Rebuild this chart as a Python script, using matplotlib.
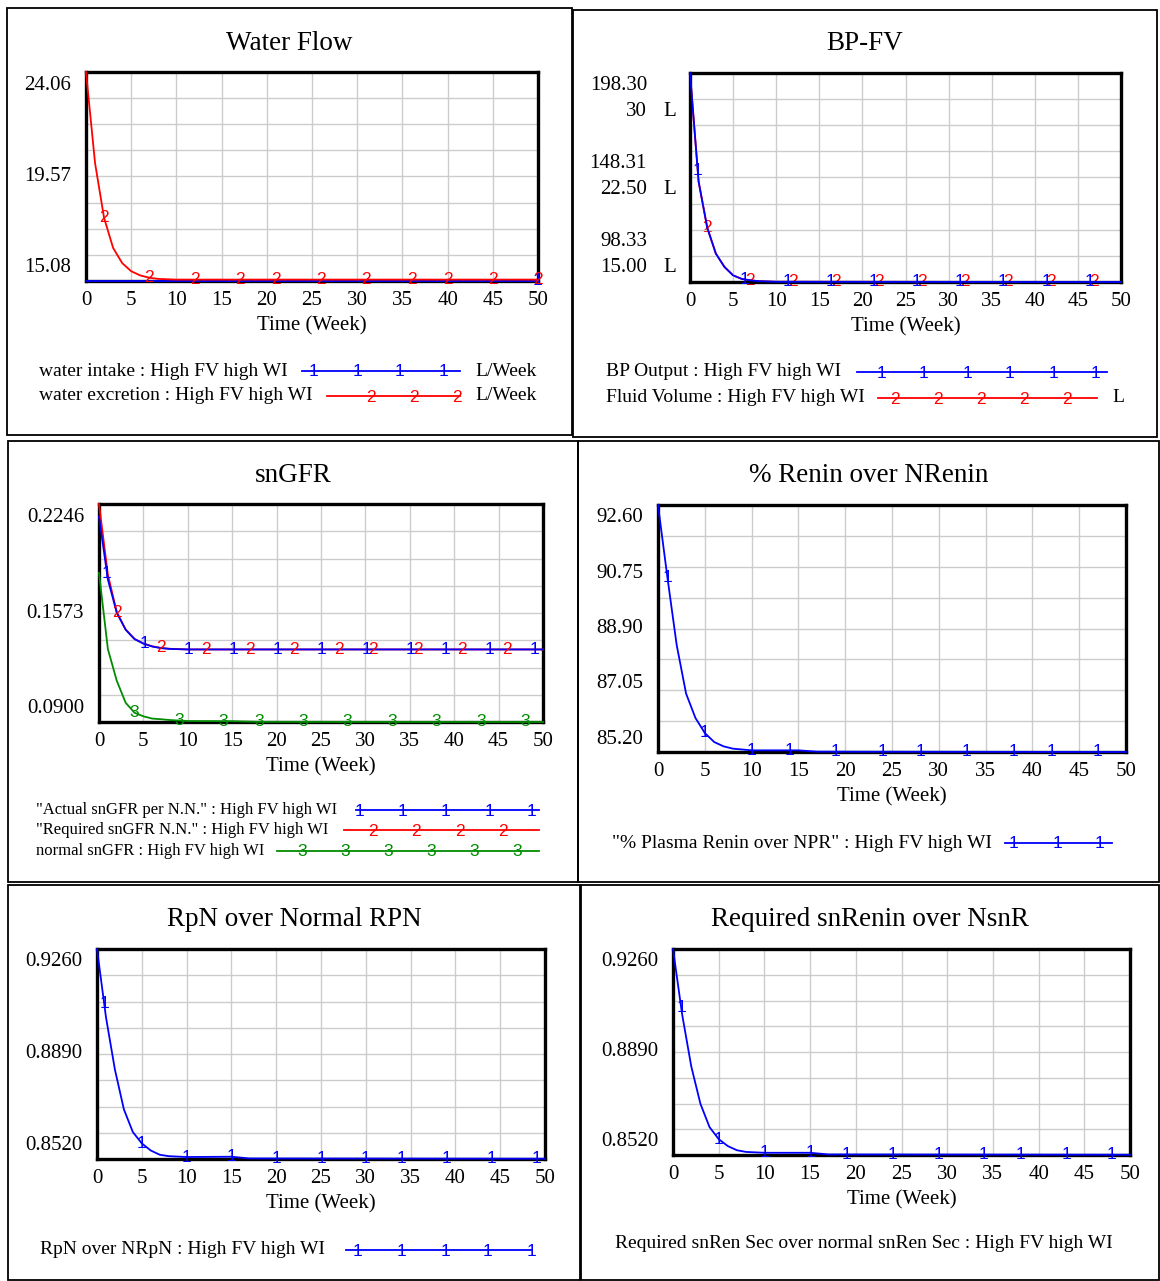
import numpy as np
import matplotlib
matplotlib.use('Agg')
import matplotlib.pyplot as plt
from matplotlib.lines import Line2D
from matplotlib.patches import Rectangle

W, H = 1160, 1281
SERIF = 'Liberation Serif'
SANS = 'Liberation Sans'
BLUE = '#0000ff'
RED = '#ff0000'
GREEN = '#008c00'

# ---- data (weeks) ----
t_wf = [0, 1, 2, 3, 4, 5, 6, 7, 8, 10, 50]
water_excretion = [24.06, 20.15, 17.79, 16.50, 15.85, 15.50, 15.32, 15.22, 15.17, 15.14, 15.14]
t_wi = [0, 50]
water_intake = [15.08, 15.08]
wf_marks_intake = [50]
wf_marks_excretion = [2, 7, 12, 17, 21, 26, 31, 36, 40, 45, 50]

t_bf = [0, 1, 2, 3, 4, 5, 6, 7, 8, 10, 50]
bp_output = [198.30, 146.3, 124.3, 111.9, 105.5, 101.5, 99.8, 99.13, 98.73, 98.43, 98.33]
fluid_volume = [30.0, 22.2, 18.9, 17.04, 16.08, 15.48, 15.22, 15.12, 15.06, 15.02, 15.0]
bf_marks_bp = [0.9, 6.3, 11.3, 16.3, 21.3, 26.3, 31.3, 36.3, 41.3, 46.3]
bf_marks_fv = [2.0, 6.9, 11.9, 16.9, 21.9, 26.9, 31.9, 36.9, 41.9, 46.9]

t_gfr = [0, 1, 2, 3, 4, 5, 6, 7, 8, 10, 15, 18, 50]
actual_sngfr = [0.2168, 0.178, 0.1575, 0.147, 0.1412, 0.1384, 0.1366, 0.1356, 0.1351, 0.1348, 0.1348, 0.1348, 0.1348]
required_sngfr = [0.2246, 0.181, 0.1578, 0.1471, 0.1413, 0.1385, 0.1367, 0.1357, 0.1352, 0.1348, 0.1348, 0.1348, 0.1348]
normal_sngfr = [0.182, 0.135, 0.1155, 0.1019, 0.0957, 0.0935, 0.0921, 0.0917, 0.0912, 0.0906, 0.0905, 0.0901, 0.0900]
gfr_marks_actual = [0.9, 5.1, 10.1, 15.1, 20.1, 25.1, 30.1, 35.1, 39.0, 44.0, 49.0]
gfr_marks_required = [2.0, 7.0, 12.0, 17.0, 22.0, 27.0, 30.9, 35.9, 40.9, 45.9]
gfr_marks_normal = [4.0, 9.0, 14.0, 18.0, 23.0, 28.0, 33.0, 38.0, 43.0, 48.0]

t_ren = [0, 1, 2, 3, 4, 5, 6, 7, 8, 10, 15, 17, 50]
pct_renin = [92.60, 90.44, 88.40, 86.95, 86.22, 85.77, 85.50, 85.37, 85.30, 85.25, 85.25, 85.21, 85.20]
ren_marks = [1.0, 5.0, 10.0, 14.0, 19.0, 24.0, 28.0, 33.0, 38.0, 42.0, 47.0]

rpn_ratio = [0.9260, 0.9020, 0.8835, 0.8695, 0.8615, 0.8575, 0.8550, 0.8535, 0.8530, 0.8527, 0.8528, 0.8522, 0.8521]
rpn_marks = [0.8, 5.0, 10.0, 15.0, 20.0, 25.0, 30.0, 34.0, 39.0, 44.0, 49.0]

snren_ratio = [0.9260, 0.9025, 0.8838, 0.8704, 0.8620, 0.8577, 0.8552, 0.8537, 0.8531, 0.8528, 0.8528, 0.8522, 0.8521]
snren_marks = [0.9, 5.0, 10.0, 15.0, 19.0, 24.0, 29.0, 34.0, 38.0, 43.0, 48.0]

x_ticks = list(range(0, 51, 5))

TICK_FS = 15
LEG_FS = 14
MARK_FS = 12.5


def fx(x):
    return x / W


def fy(y):
    return 1 - y / H


fig = plt.figure(figsize=(W / 100, H / 100), dpi=100)


def box(x0, y0, x1, y1, title, title_y):
    fig.patches.append(Rectangle((fx(x0), fy(y1)), fx(x1) - fx(x0), fy(y0) - fy(y1),
                                 transform=fig.transFigure, fill=False, lw=1.3, ec='black'))
    fig.text(fx((x0 + x1) / 2), fy(title_y), title, fontfamily=SERIF, fontsize=19.5,
             ha='center', va='center')


def make_axes(l, t, r, b, lo, hi):
    ax = fig.add_axes([fx(l), fy(b), fx(r) - fx(l), fy(t) - fy(b)])
    ax.set_xlim(0, 50)
    ax.set_ylim(lo, hi)
    ax.set_xticks(x_ticks)
    ax.set_xticklabels([str(v) for v in x_ticks], fontfamily=SERIF, fontsize=TICK_FS)
    ax.set_yticks(np.linspace(lo, hi, 9))
    ax.set_yticklabels([])
    ax.tick_params(length=0, pad=7)
    ax.grid(True, color='#cccccc', lw=1.0)
    for s in ax.spines.values():
        s.set_linewidth(2.4)
        s.set_zorder(3)
    ax.set_xlabel('Time (Week)', fontfamily=SERIF, fontsize=TICK_FS, labelpad=5)
    return ax


def ylabels(labels, t, b, right_x, off=13):
    ys = np.linspace(t + off, b - off, len(labels))
    for lab, y in zip(labels, ys):
        fig.text(fx(right_x), fy(y), lab, fontfamily=SERIF, fontsize=TICK_FS,
                 ha='right', va='center')


def series(ax, t, v, color, marks, char):
    ax.plot(t, v, color=color, lw=1.3, clip_on=False, zorder=4)
    for m in marks:
        ax.text(m, np.interp(m, t, v), char, color=color, fontfamily=SANS, fontsize=MARK_FS,
                ha='center', va='center', zorder=5, clip_on=False)


def legend_row(text, tx, y, color=None, x0=None, x1=None, char=None, mxs=(), units=None,
               ux=None, fs=LEG_FS):
    fig.text(fx(tx), fy(y), text, fontfamily=SERIF, fontsize=fs, ha='left', va='center')
    if color is not None:
        fig.add_artist(Line2D([fx(x0), fx(x1)], [fy(y), fy(y)], color=color, lw=1.3,
                              transform=fig.transFigure))
        for mx in mxs:
            fig.text(fx(mx), fy(y + 1), char, color=color, fontfamily=SANS, fontsize=MARK_FS,
                     ha='center', va='center')
    if units is not None:
        fig.text(fx(ux), fy(y), units, fontfamily=SERIF, fontsize=fs, ha='left', va='center')


# panel borders + titles
box(7, 8, 572, 435, 'Water Flow', 43)
box(573, 10, 1157, 437, 'BP-FV', 43)
box(8, 441, 578, 882, 'snGFR', 475)
box(578, 441, 1159, 882, '% Renin over NRenin', 475)
box(8, 885, 580, 1280, 'RpN over Normal RPN', 920)
box(581, 885, 1159, 1280, 'Required snRenin over NsnR', 920)

# ---- Water Flow ----
ax1 = make_axes(86, 72, 538, 281, 15.08, 24.06)
series(ax1, t_wi, water_intake, BLUE, wf_marks_intake, '1')
series(ax1, t_wf, water_excretion, RED, wf_marks_excretion, '2')
ylabels(['24.06', '19.57', '15.08'], 72, 281, 71)
legend_row('water intake : High FV high WI', 39, 371, BLUE, 302, 460, '1',
           [314, 357, 400, 443], 'L/Week', 475)
legend_row('water excretion : High FV high WI', 39, 396, RED, 327, 460, '2',
           [371, 414, 457], 'L/Week', 475)

# ---- BP-FV ----
ax2 = make_axes(690, 73, 1121, 282, 98.33, 198.30)
ax2b = ax2.twinx()
ax2b.set_ylim(15.0, 30.0)
ax2b.set_yticks([])
for s in ax2b.spines.values():
    s.set_visible(False)
series(ax2b, t_bf, fluid_volume, RED, bf_marks_fv, '2')
series(ax2, t_bf, bp_output, BLUE, bf_marks_bp, '1')
ax2.set_zorder(ax2b.get_zorder() + 1)
ax2.patch.set_visible(False)
for lab, y in zip(['198.30', '148.31', '98.33'], [85, 164, 242]):
    fig.text(fx(647), fy(y), lab, fontfamily=SERIF, fontsize=TICK_FS, ha='right', va='center')
for lab, y in zip(['30', '22.50', '15.00'], [112, 190, 268]):
    fig.text(fx(647), fy(y), lab, fontfamily=SERIF, fontsize=TICK_FS, ha='right', va='center')
    fig.text(fx(663), fy(y), 'L', fontfamily=SERIF, fontsize=TICK_FS, ha='left', va='center')
legend_row('BP Output : High FV high WI', 606, 372, BLUE, 857, 1107, '1',
           [881, 924, 967, 1010, 1053, 1096])
legend_row('Fluid Volume : High FV high WI', 606, 398, RED, 878, 1097, '2',
           [895, 938, 981, 1024, 1067], 'L', 1112)

# ---- snGFR ----
ax3 = make_axes(99, 504, 543, 722, 0.0900, 0.2246)
series(ax3, t_gfr, normal_sngfr, GREEN, gfr_marks_normal, '3')
series(ax3, t_gfr, required_sngfr, RED, gfr_marks_required, '2')
series(ax3, t_gfr, actual_sngfr, BLUE, gfr_marks_actual, '1')
ylabels(['0.2246', '0.1573', '0.0900'], 504, 722, 84)
legend_row('"Actual snGFR per N.N." : High FV high WI', 36, 810, BLUE, 356, 539, '1',
           [359, 402, 446, 489, 532], fs=12)
legend_row('"Required snGFR N.N." : High FV high WI', 36, 830, RED, 344, 539, '2',
           [373, 416, 460, 503], fs=12)
legend_row('normal snGFR : High FV high WI', 36, 851, GREEN, 277, 539, '3',
           [302, 345, 388, 431, 474, 517], fs=12)

# ---- % Renin over NRenin ----
ax4 = make_axes(658, 505, 1126, 752, 85.20, 92.60)
series(ax4, t_ren, pct_renin, BLUE, ren_marks, '1')
ylabels(['92.60', '90.75', '88.90', '87.05', '85.20'], 505, 752, 643)
legend_row('"% Plasma Renin over NPR" : High FV high WI', 612, 843, BLUE, 1005, 1112, '1',
           [1013, 1057, 1100])

# ---- RpN over Normal RPN ----
ax5 = make_axes(97, 949, 545, 1159, 0.8520, 0.9260)
series(ax5, t_ren, rpn_ratio, BLUE, rpn_marks, '1')
ylabels(['0.9260', '0.8890', '0.8520'], 949, 1159, 82)
legend_row('RpN over NRpN : High FV high WI', 40, 1250, BLUE, 346, 531, '1',
           [357, 401, 445, 488, 531])

# ---- Required snRenin over NsnR ----
ax6 = make_axes(673, 949, 1130, 1155, 0.8520, 0.9260)
series(ax6, t_ren, snren_ratio, BLUE, snren_marks, '1')
ylabels(['0.9260', '0.8890', '0.8520'], 949, 1155, 658)
legend_row('Required snRen Sec over normal snRen Sec : High FV high WI', 615, 1244)

fig.savefig('out.png', dpi=100)
